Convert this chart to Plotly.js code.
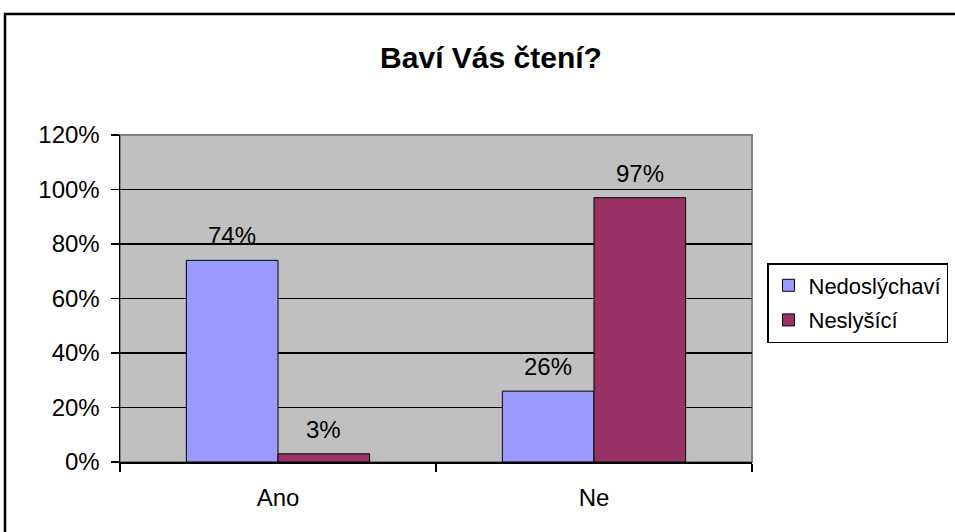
<!DOCTYPE html>
<html>
<head>
<meta charset="utf-8">
<script src="https://cdn.plot.ly/plotly-3.0.1.min.js"></script>
<style>html,body{margin:0;padding:0;background:#fff;}#chart{width:955px;height:532px;}</style>
</head>
<body>
<div id="chart"></div>
<script>
const categories = ["Ano", "Ne"];
const seriesNames = ["Nedoslýchaví", "Neslyšící"];
const nedoslychavi = [0.74, 0.26];
const neslysici = [0.03, 0.97];
const seriesValues = [nedoslychavi, neslysici];
const seriesColors = ["#9999FF", "#993366"];
const yTickVals = [0, 0.2, 0.4, 0.6, 0.8, 1.0, 1.2];
const chartTitle = "Baví Vás čtení?";

const FONT = "Liberation Sans, Arial, sans-serif";
const FS = 24;
const bargap = 0.42;
const barW = (1 - bargap) / 2;

const traces = seriesValues.map((vals, s) => ({
  type: "bar",
  name: seriesNames[s],
  x: categories,
  y: vals,
  marker: {color: seriesColors[s], line: {color: "#000", width: 1}},
  legendgroup: "g" + s,
  hoverinfo: "skip"
}));

const annotations = [];
seriesValues.forEach((vals, s) => {
  vals.forEach((v, i) => {
    annotations.push({
      x: i + (s === 0 ? -barW / 2 : barW / 2),
      y: v,
      xref: "x", yref: "y",
      text: Math.round(v * 100) + "%",
      showarrow: false,
      yanchor: "bottom",
      yshift: 9,
      font: {family: FONT, size: FS, color: "#000"}
    });
  });
});

const L = 120, R = 752, T = 135, B = 462;
const pw = R - L, ph = B - T;
const px = v => (v - L) / pw;
const py = v => (B - v) / ph;

const layout = {
  width: 955, height: 532,
  margin: {l: L, r: 955 - R, t: T, b: 532 - B, autoexpand: false},
  paper_bgcolor: "#fff",
  plot_bgcolor: "#C0C0C0",
  title: {text: "<b>" + chartTitle + "</b>", font: {family: FONT, size: 30, color: "#000"},
          x: 491 / 955, xanchor: "center", y: 1 - 57 / 532, yanchor: "middle", xref: "container", yref: "container"},
  barmode: "group",
  bargap: bargap,
  bargroupgap: 0,
  showlegend: true,
  legend: {x: px(767), xanchor: "left", y: py(263), yanchor: "top",
           bordercolor: "#000", borderwidth: 1.5, bgcolor: "#fff",
           font: {family: FONT, size: 22, color: "#000"},
           traceorder: "grouped", tracegroupgap: 3},
  xaxis: {type: "category", tickson: "boundaries", ticks: "outside", ticklen: 8, tickcolor: "#000", tickwidth: 1.5,
          showline: true, linecolor: "#000", linewidth: 1.5, showgrid: false, zeroline: false,
          ticklabelstandoff: 14,
          tickfont: {family: FONT, size: FS, color: "#000"}, fixedrange: true},
  yaxis: {range: [0, 1.2], tickvals: yTickVals, tickformat: ".0%", ticks: "outside", ticklen: 8,
          tickcolor: "#000", tickwidth: 1.5, showline: true, linecolor: "#000", linewidth: 1.5,
          showgrid: true, gridcolor: "#000", gridwidth: 1.5, zeroline: false,
          ticklabelstandoff: 6,
          tickfont: {family: FONT, size: FS, color: "#000"}, fixedrange: true},
  annotations: annotations,
  shapes: [
    {type: "rect", xref: "paper", yref: "paper", x0: 0, x1: 1, y0: 0, y1: 1,
     line: {color: "#808080", width: 2}, layer: "below"},
    {type: "rect", xref: "paper", yref: "paper", x0: px(5), x1: px(990), y0: py(14), y1: py(560),
     line: {color: "#000", width: 2.5}, layer: "above"}
  ]
};

Plotly.newPlot("chart", traces, layout, {displayModeBar: false, staticPlot: true});
</script>
</body>
</html>
